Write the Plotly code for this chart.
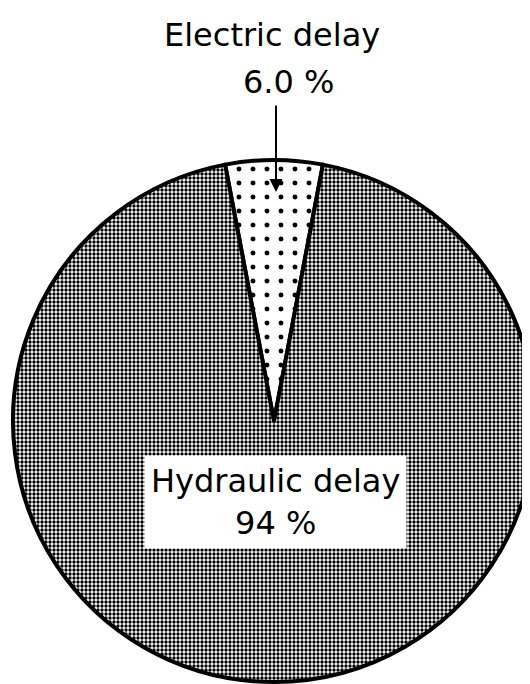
import plotly.graph_objects as go

W, H = 530, 684

labels = ["Electric delay", "Hydraulic delay"]
values = [6.0, 94]
value_text = ["6.0 %", "94 %"]


def px_x(x):
    return x / W


def px_y(y):
    return 1 - y / H


# circle of the pie in pixels
cx, cy, r = 266, 413, 261

fig = go.Figure()
fig.add_trace(go.Pie(
    labels=labels,
    values=values,
    sort=False,
    direction="clockwise",
    rotation=-values[0] / sum(values) * 180,
    textinfo="none",
    hoverinfo="label+percent",
    showlegend=False,
    domain=dict(x=[px_x(cx - r), px_x(cx + r)], y=[px_y(cy + r), px_y(cy - r)]),
    marker=dict(
        colors=["white", "white"],
        line=dict(color="black", width=4),
        pattern=dict(
            shape=[".", "."],
            fgcolor=["black", "black"],
            bgcolor=["white", "white"],
            size=[14, 4],
            solidity=[0.1, 0.55],
        ),
    ),
))

font = dict(family="DejaVu Sans", size=32, color="black")

# electric delay label above the pie, arrow into the wedge
fig.add_annotation(
    x=px_x(264), y=px_y(27), xref="paper", yref="paper",
    text=labels[0], showarrow=False, font=font,
    xanchor="center", yanchor="middle",
)
fig.add_annotation(
    x=px_x(280), y=px_y(74), xref="paper", yref="paper",
    text=value_text[0], showarrow=False, font=font,
    xanchor="center", yanchor="middle",
)
fig.add_annotation(
    x=px_x(cx + 2), y=px_y(184), xref="paper", yref="paper",
    text="", showarrow=True, ax=0, ay=-88,
    arrowhead=2, arrowsize=1.3, arrowwidth=2, arrowcolor="black",
)

# hydraulic delay label in a white box
fig.add_annotation(
    x=px_x(267), y=px_y(494), xref="paper", yref="paper",
    text=f"{labels[1]}<br>{value_text[1]}",
    showarrow=False, font=font, align="center",
    xanchor="center", yanchor="middle",
    bgcolor="white", borderpad=6,
)

fig.update_layout(
    width=W, height=H,
    margin=dict(l=0, r=0, t=0, b=0),
    paper_bgcolor="white", plot_bgcolor="white",
)

fig.write_html("out.html")
